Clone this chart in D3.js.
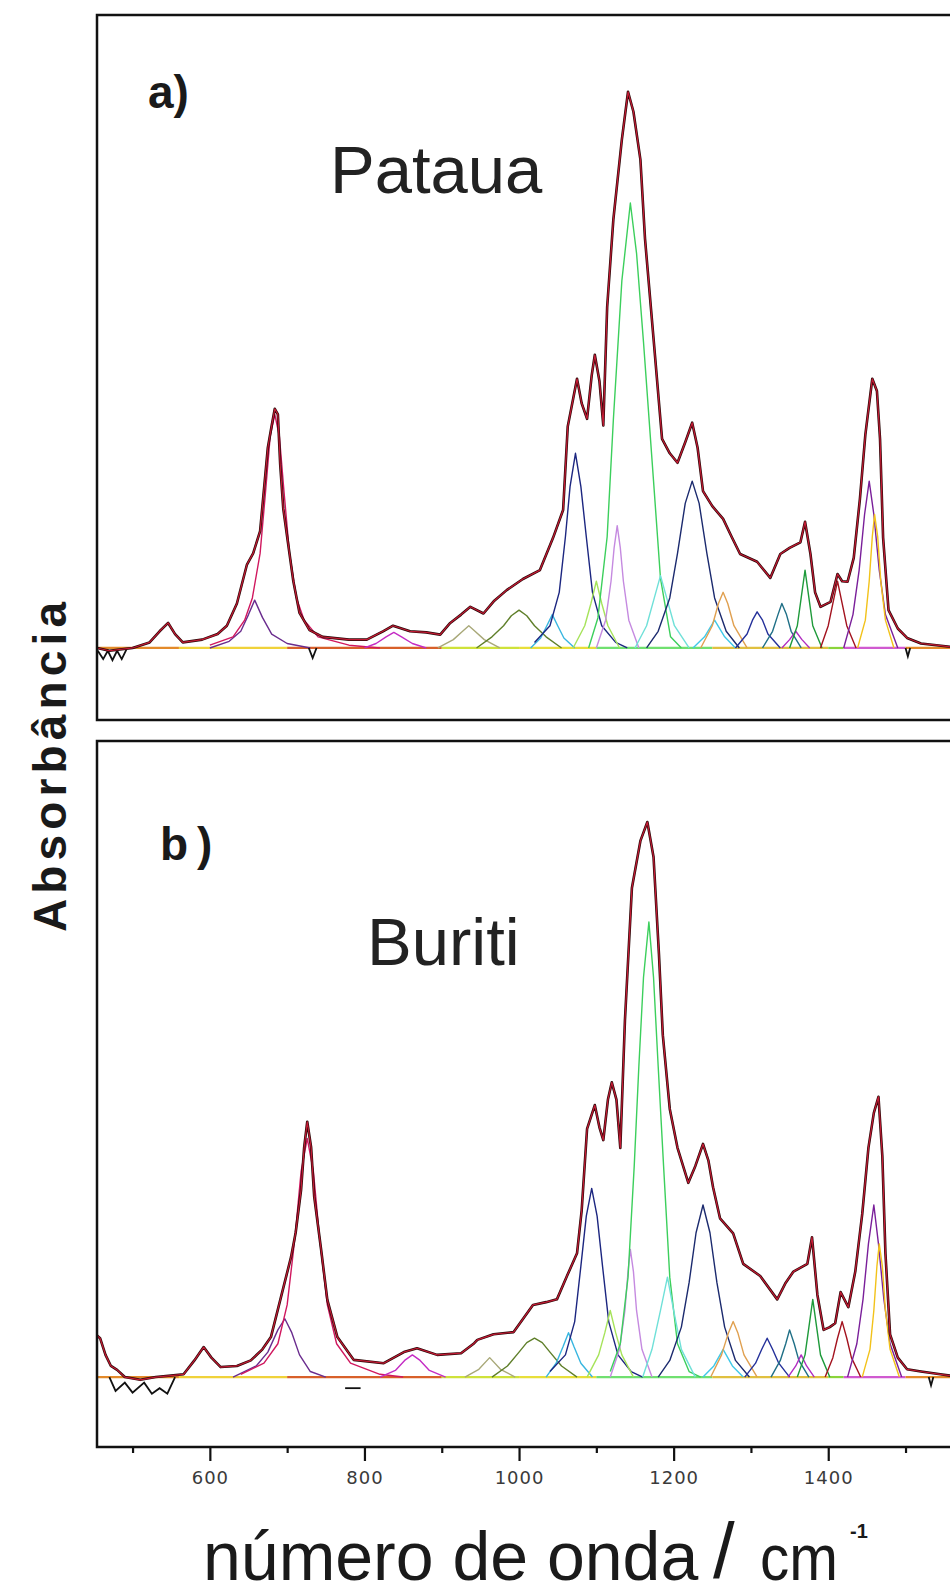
<!DOCTYPE html>
<html lang="pt-BR">
<head>
<meta charset="utf-8">
<title>Absorbância — Pataua e Buriti</title>
<script src="https://cdn.jsdelivr.net/npm/d3@7"></script>
<style>
  html, body { margin: 0; padding: 0; background: #fff; }
  svg { display: block; }
</style>
</head>
<body>
<div id="grafico"></div>
<script>
// ============================================================
// Espectros FTIR deconvoluídos — a) Pataua, b) Buriti
// Dados: [número de onda (cm-1), absorbância relativa]
// ============================================================

// ── Eixo X ──
const ticksPrincipais = [600, 800, 1000, 1200, 1400];
const ticksSecundarios = [500, 700, 900, 1100, 1300, 1500];
const rotulosTicks = ['600', '800', '1000', '1200', '1400'];

// ── Textos ──
const rotulosPaineis = ['a)', 'b)'];
const nomesAmostras = ['Pataua', 'Buriti'];
const tituloY = 'Absorbância';
const tituloX = ['número de onda', '/', 'cm', '-1'];

// ── a) Pataua: espectro total ──
const totalPataua = [
  [454,0.0],[470,-0.005],[500,0.0],[522,0.01],[535,0.03],[546,0.045],[555,0.025],[565,0.01],
  [590,0.015],[610,0.025],[622,0.04],[635,0.08],[648,0.15],[656,0.17],[665,0.21],[671,0.30],
  [675,0.36],[680,0.40],[684,0.43],[688,0.42],[691,0.33],[695,0.25],[701,0.19],[708,0.12],
  [716,0.063],[729,0.032],[746,0.02],[780,0.015],[803,0.015],[824,0.03],[837,0.04],[859,0.03],
  [880,0.028],[898,0.024],[911,0.045],[925,0.06],[937,0.074],[954,0.062],[968,0.085],[984,0.104],
  [1005,0.124],[1027,0.14],[1044,0.198],[1057,0.248],[1063,0.398],[1070,0.448],[1075,0.484],
  [1081,0.44],[1088,0.412],[1094,0.49],[1098,0.527],[1104,0.48],[1109,0.40],[1114,0.613],
  [1122,0.77],[1133,0.914],[1141,1.0],[1148,0.964],[1157,0.878],[1163,0.735],[1174,0.556],
  [1185,0.376],[1195,0.35],[1205,0.333],[1215,0.37],[1224,0.405],[1231,0.36],[1238,0.282],
  [1250,0.255],[1264,0.232],[1275,0.2],[1286,0.169],[1308,0.155],[1325,0.126],[1338,0.169],
  [1350,0.18],[1364,0.19],[1370,0.227],[1377,0.169],[1383,0.10],[1390,0.074],[1403,0.083],
  [1412,0.133],[1418,0.12],[1425,0.119],[1433,0.162],[1441,0.268],[1448,0.383],[1457,0.484],
  [1463,0.462],[1467,0.376],[1471,0.198],[1478,0.068],[1490,0.035],[1502,0.018],[1520,0.008],
  [1540,0.005],[1570,0.0]
];

// ── a) Pataua: bandas ajustadas (mesma ordem das cores) ──
const componentesPataua = [
  [[600,0],[625,0.012],[640,0.03],[650,0.06],[658,0.086],[668,0.055],[680,0.025],[700,0.008],[730,0]],
  [[600,0.005],[630,0.02],[645,0.05],[655,0.09],[665,0.17],[672,0.28],[678,0.38],[684,0.42],[690,0.38],
   [696,0.28],[703,0.17],[712,0.09],[722,0.05],[740,0.02],[780,0.005],[820,0]],
  [[800,0],[815,0.008],[828,0.02],[838,0.028],[848,0.02],[862,0.008],[880,0]],
  [[895,0],[915,0.015],[927,0.03],[935,0.04],[943,0.03],[955,0.015],[975,0]],
  [[945,0],[965,0.02],[980,0.04],[990,0.058],[1000,0.068],[1010,0.058],[1020,0.04],[1035,0.02],[1055,0]],
  [[1015,0],[1028,0.018],[1036,0.04],[1043,0.06],[1050,0.04],[1058,0.018],[1072,0]],
  [[1020,0.01],[1040,0.04],[1052,0.1],[1060,0.2],[1066,0.29],[1073,0.35],[1080,0.29],[1087,0.2],
   [1095,0.1],[1107,0.04],[1125,0.01],[1140,0]],
  [[1070,0],[1085,0.04],[1093,0.08],[1100,0.12],[1107,0.08],[1115,0.04],[1130,0]],
  [[1100,0],[1112,0.05],[1119,0.12],[1123,0.18],[1127,0.22],[1131,0.18],[1135,0.12],[1142,0.05],[1155,0]],
  [[1090,0],[1102,0.054],[1114,0.2],[1122,0.41],[1133,0.66],[1144,0.8],[1152,0.71],[1161,0.55],
   [1174,0.30],[1183,0.125],[1196,0.02],[1210,0]],
  [[1150,0],[1165,0.04],[1175,0.09],[1183,0.13],[1191,0.09],[1201,0.04],[1220,0]],
  [[1165,0],[1180,0.03],[1195,0.09],[1205,0.17],[1215,0.26],[1224,0.30],[1233,0.26],[1243,0.17],
   [1253,0.09],[1268,0.03],[1285,0]],
  [[1225,0],[1240,0.02],[1253,0.05],[1266,0.02],[1280,0]],
  [[1235,0],[1250,0.04],[1258,0.08],[1264,0.1],[1270,0.08],[1278,0.04],[1295,0]],
  [[1280,0],[1295,0.025],[1302,0.05],[1308,0.065],[1315,0.05],[1322,0.025],[1338,0]],
  [[1315,0],[1328,0.03],[1335,0.06],[1340,0.08],[1346,0.06],[1352,0.03],[1365,0]],
  [[1340,0],[1350,0.015],[1358,0.03],[1366,0.015],[1376,0]],
  [[1350,0],[1360,0.04],[1365,0.09],[1370,0.14],[1375,0.09],[1380,0.04],[1392,0]],
  [[1390,0],[1400,0.04],[1406,0.08],[1412,0.12],[1418,0.08],[1424,0.04],[1436,0]],
  [[1420,0],[1432,0.06],[1440,0.14],[1447,0.24],[1453,0.3],[1459,0.24],[1466,0.14],[1474,0.06],[1490,0]],
  [[1438,0],[1448,0.05],[1453,0.12],[1457,0.2],[1460,0.24],[1464,0.2],[1468,0.12],[1474,0.05],[1485,0]]
];

// ── a) Pataua: ruído abaixo da linha de base ──
const ruidoPataua = [
  [[455,-0.005],[462,-0.02],[468,-0.005],[474,-0.022],[480,-0.005],[486,-0.02],[492,-0.003]],
  [[728,0],[733,-0.018],[738,0]],
  [[1500,0],[1503,-0.015],[1506,0]]
];

// ── b) Buriti: espectro total ──
const totalBuriti = [
  [454,0.075],[458,0.07],[465,0.04],[472,0.02],[480,0.013],[490,0.0],[510,-0.005],[530,0.0],
  [566,0.005],[580,0.03],[592,0.054],[602,0.035],[614,0.018],[635,0.02],[653,0.03],[668,0.05],
  [679,0.072],[692,0.144],[705,0.216],[711,0.26],[718,0.337],[722,0.414],[726,0.46],[731,0.414],
  [735,0.325],[744,0.229],[752,0.139],[765,0.072],[786,0.031],[825,0.025],[851,0.045],[868,0.052],
  [894,0.04],[925,0.043],[942,0.061],[946,0.067],[967,0.077],[993,0.081],[1018,0.13],[1035,0.135],
  [1049,0.14],[1062,0.182],[1075,0.223],[1081,0.30],[1088,0.447],[1098,0.49],[1104,0.45],
  [1109,0.427],[1115,0.5],[1120,0.531],[1126,0.5],[1131,0.413],[1137,0.643],[1146,0.881],
  [1157,0.966],[1166,1.0],[1174,0.937],[1181,0.762],[1186,0.616],[1195,0.483],[1205,0.413],
  [1219,0.35],[1228,0.38],[1238,0.42],[1245,0.39],[1251,0.342],[1260,0.286],[1277,0.259],
  [1290,0.204],[1312,0.182],[1334,0.14],[1345,0.17],[1355,0.19],[1373,0.204],[1379,0.252],
  [1386,0.148],[1394,0.085],[1402,0.09],[1409,0.097],[1416,0.153],[1426,0.126],[1435,0.19],
  [1444,0.294],[1452,0.413],[1459,0.476],[1465,0.505],[1470,0.398],[1474,0.223],[1480,0.077],
  [1490,0.035],[1502,0.014],[1520,0.01],[1545,0.005],[1570,0]
];

// ── b) Buriti: bandas ajustadas ──
const componentesBuriti = [
  [[630,0],[660,0.02],[675,0.045],[688,0.085],[697,0.105],[706,0.08],[716,0.04],[730,0.01],[750,0]],
  [[640,0.005],[670,0.025],[688,0.06],[700,0.13],[710,0.25],[718,0.37],[726,0.43],[734,0.37],
   [742,0.25],[752,0.13],[764,0.06],[782,0.025],[820,0.005],[850,0]],
  [[820,0],[840,0.012],[852,0.03],[862,0.04],[872,0.03],[884,0.012],[905,0]],
  [[930,0],[948,0.014],[962,0.035],[976,0.014],[995,0]],
  [[965,0],[985,0.02],[1000,0.045],[1010,0.062],[1020,0.07],[1030,0.062],[1040,0.045],[1055,0.02],[1075,0]],
  [[1035,0],[1048,0.025],[1057,0.055],[1064,0.08],[1071,0.055],[1080,0.025],[1095,0]],
  [[1040,0.01],[1060,0.04],[1072,0.1],[1080,0.2],[1087,0.29],[1094,0.34],[1101,0.29],[1108,0.2],
   [1116,0.1],[1128,0.04],[1145,0.01],[1160,0]],
  [[1088,0],[1103,0.04],[1111,0.08],[1118,0.12],[1125,0.08],[1133,0.04],[1148,0]],
  [[1118,0],[1130,0.05],[1137,0.12],[1141,0.19],[1144,0.23],[1148,0.19],[1152,0.12],[1159,0.05],[1172,0]],
  [[1118,0.01],[1131,0.06],[1141,0.18],[1149,0.38],[1155,0.56],[1161,0.72],[1168,0.82],[1174,0.72],
   [1180,0.56],[1187,0.38],[1195,0.18],[1205,0.06],[1220,0.01],[1235,0]],
  [[1160,0],[1172,0.05],[1183,0.12],[1192,0.18],[1200,0.12],[1210,0.05],[1228,0]],
  [[1180,0],[1195,0.03],[1210,0.09],[1220,0.17],[1229,0.26],[1238,0.31],[1247,0.26],[1256,0.17],
   [1266,0.09],[1280,0.03],[1298,0]],
  [[1238,0],[1252,0.02],[1264,0.05],[1276,0.02],[1290,0]],
  [[1248,0],[1262,0.04],[1271,0.08],[1277,0.1],[1283,0.08],[1291,0.04],[1308,0]],
  [[1292,0],[1306,0.025],[1314,0.05],[1321,0.07],[1328,0.05],[1336,0.025],[1350,0]],
  [[1326,0],[1338,0.03],[1345,0.06],[1350,0.085],[1356,0.06],[1362,0.03],[1375,0]],
  [[1348,0],[1358,0.02],[1365,0.04],[1372,0.02],[1382,0]],
  [[1360,0],[1370,0.04],[1375,0.09],[1380,0.14],[1385,0.09],[1390,0.04],[1402,0]],
  [[1396,0],[1406,0.035],[1412,0.07],[1418,0.1],[1424,0.07],[1430,0.035],[1442,0]],
  [[1425,0],[1437,0.06],[1445,0.14],[1452,0.24],[1459,0.31],[1465,0.24],[1472,0.14],[1480,0.06],[1495,0]],
  [[1444,0],[1454,0.05],[1459,0.12],[1463,0.2],[1466,0.24],[1470,0.2],[1474,0.12],[1480,0.05],[1492,0]]
];

// ── b) Buriti: ruído abaixo da linha de base ──
const ruidoBuriti = [
  [[470,0.0],[478,-0.025],[490,-0.01],[500,-0.028],[515,-0.01],[525,-0.03],[535,-0.02],[545,-0.03],[555,0]],
  [[775,-0.02],[795,-0.02]],
  [[1530,0],[1533,-0.015],[1536,0]]
];

;(function () {
  'use strict';

  // ── Paleta ──
  const CORES = {
    fundo: '#ffffff',
    moldura: '#111111',
    texto: '#1a1a1a',
    tick: '#3a3a3a',
    totalEscuro: '#2a0808',
    totalClaro: '#c41a34',
  };

  // uma cor por banda, na ordem dos arrays de componentes
  const CORES_COMPONENTES = [
    '#6a2c8e', '#d0175e', '#c42bc4', '#a8a878', '#5f7f2a', '#38b6e0', '#1c2680',
    '#a6e35a', '#c58ae0', '#3ccf5c', '#6fe0d8', '#1b2a6e', '#3fc8e8', '#e0a050',
    '#24309a', '#1f6f86', '#b02cc0', '#1e9a3a', '#a3121e', '#7a1f9a', '#f2c21a'
  ];

  // trechos coloridos da linha de base (limite superior em cm-1)
  const CORES_BASE = [
    { ate: 560, cor: '#e38a2a' }, { ate: 700, cor: '#f0d23a' }, { ate: 900, cor: '#d8602a' },
    { ate: 1000, cor: '#cfe23a' }, { ate: 1100, cor: '#e8df3a' }, { ate: 1250, cor: '#70e070' },
    { ate: 1400, cor: '#e0c040' }, { ate: 1420, cor: '#8ad43a' }, { ate: 1500, cor: '#d05ad0' },
    { ate: 1570, cor: '#e38a2a' }
  ];

  const LARGURA = 950;
  const ALTURA = 1595;

  const svg = d3.select('#grafico')
    .append('svg')
    .attr('width', LARGURA)
    .attr('height', ALTURA);

  svg.append('rect').attr('width', LARGURA).attr('height', ALTURA).attr('fill', CORES.fundo);
  const defs = svg.append('defs');

  // ── Escalas ──
  const x = d3.scaleLinear().domain([454, 1564]).range([97, 955]);

  const paineis = [
    { id: 'a', topo: 15, base: 720, y: d3.scaleLinear().domain([-0.1295, 1.138]).range([720, 15]),
      total: totalPataua, componentes: componentesPataua, ruido: ruidoPataua,
      rotulo: { x: 148, y: 108, espaco: 0 }, nome: { x: 330, y: 193 } },
    { id: 'b', topo: 741, base: 1447, y: d3.scaleLinear().domain([-0.126, 1.146]).range([1447, 741]),
      total: totalBuriti, componentes: componentesBuriti, ruido: ruidoBuriti,
      rotulo: { x: 160, y: 860, espaco: 9 }, nome: { x: 367, y: 965 } },
  ];

  /**
   * Desenha um painel: bandas, espectro total, moldura e textos
   */
  function _desenharPainel(p, i) {
    const g = svg.append('g').attr('class', 'painel-' + p.id);

    defs.append('clipPath').attr('id', 'clip-' + p.id)
      .append('rect')
      .attr('x', x.range()[0]).attr('y', p.topo)
      .attr('width', LARGURA - x.range()[0]).attr('height', p.base - p.topo);

    const area = g.append('g').attr('clip-path', `url(#clip-${p.id})`);
    const linha = d3.line().x(d => x(d[0])).y(d => p.y(d[1]));

    // linha de base colorida
    let inicio = x.domain()[0];
    CORES_BASE.forEach(s => {
      area.append('path')
        .attr('d', linha([[inicio, 0], [s.ate, 0]]))
        .attr('fill', 'none')
        .attr('stroke', s.cor)
        .attr('stroke-width', 2.2);
      inicio = s.ate;
    });

    // bandas
    p.componentes.forEach((pts, k) => {
      area.append('path')
        .attr('d', linha(pts))
        .attr('fill', 'none')
        .attr('stroke', CORES_COMPONENTES[k])
        .attr('stroke-width', 1.4)
        .attr('stroke-linejoin', 'round');
    });

    // ruído (preto)
    p.ruido.forEach(pts => {
      area.append('path')
        .attr('d', linha(pts))
        .attr('fill', 'none')
        .attr('stroke', '#111')
        .attr('stroke-width', 1.8);
    });

    // espectro total: experimental (preto) + soma (vermelho)
    area.append('path')
      .attr('d', linha(p.total))
      .attr('fill', 'none')
      .attr('stroke', CORES.totalEscuro)
      .attr('stroke-width', 2.6)
      .attr('stroke-linejoin', 'round');
    area.append('path')
      .attr('d', linha(p.total))
      .attr('fill', 'none')
      .attr('stroke', CORES.totalClaro)
      .attr('stroke-width', 1.2)
      .attr('stroke-linejoin', 'round');

    // moldura
    g.append('rect')
      .attr('x', x.range()[0])
      .attr('y', p.topo)
      .attr('width', LARGURA + 20 - x.range()[0])
      .attr('height', p.base - p.topo)
      .attr('fill', 'none')
      .attr('stroke', CORES.moldura)
      .attr('stroke-width', 2.5);

    // rótulo do painel
    g.append('text')
      .attr('x', p.rotulo.x)
      .attr('y', p.rotulo.y)
      .style('font-family', "'Liberation Sans Narrow', 'Arial Narrow', 'Liberation Sans', sans-serif")
      .style('font-weight', '700')
      .style('font-size', '46px')
      .style('letter-spacing', p.rotulo.espaco + 'px')
      .style('fill', CORES.texto)
      .text(rotulosPaineis[i]);

    // nome da amostra
    g.append('text')
      .attr('x', p.nome.x)
      .attr('y', p.nome.y)
      .style('font-family', "'Liberation Sans', Arial, sans-serif")
      .style('font-size', '67px')
      .style('fill', '#222')
      .text(nomesAmostras[i]);
  }

  paineis.forEach(_desenharPainel);

  // ── Eixo X (apenas no painel inferior) ──
  const yEixo = paineis[1].base;

  const eixoMaior = d3.axisBottom(x)
    .tickValues(ticksPrincipais)
    .tickSize(14)
    .tickPadding(10)
    .tickFormat((d, i) => rotulosTicks[i]);

  const gMaior = svg.append('g')
    .attr('transform', `translate(0,${yEixo})`)
    .call(eixoMaior);

  const eixoMenor = d3.axisBottom(x)
    .tickValues(ticksSecundarios)
    .tickSize(6)
    .tickFormat('');

  const gMenor = svg.append('g')
    .attr('transform', `translate(0,${yEixo})`)
    .call(eixoMenor);

  [gMaior, gMenor].forEach(ga => {
    ga.select('.domain').remove();
    ga.selectAll('.tick line').attr('stroke', CORES.moldura).attr('stroke-width', 2.2);
  });

  gMaior.selectAll('text')
    .style('font-family', "'DejaVu Sans', sans-serif")
    .style('font-size', '18px')
    .style('letter-spacing', '1px')
    .style('fill', CORES.tick);

  // ── Título do eixo Y ──
  svg.append('text')
    .attr('transform', 'translate(66,767) rotate(-90)')
    .attr('text-anchor', 'middle')
    .attr('textLength', 330)
    .attr('lengthAdjust', 'spacing')
    .style('font-family', "'Liberation Sans', Arial, sans-serif")
    .style('font-weight', '700')
    .style('font-size', '46px')
    .style('fill', CORES.texto)
    .text(tituloY);

  // ── Título do eixo X ──
  const gTitulo = svg.append('g').style('fill', CORES.texto);

  gTitulo.append('text')
    .attr('x', 203).attr('y', 1580)
    .style('font-family', "'Liberation Sans', Arial, sans-serif")
    .style('font-size', '68px')
    .text(tituloX[0]);

  gTitulo.append('text')
    .attr('x', 713).attr('y', 1578)
    .style('font-family', "'Liberation Sans', Arial, sans-serif")
    .style('font-size', '78px')
    .text(tituloX[1]);

  gTitulo.append('text')
    .attr('x', 760).attr('y', 1580)
    .attr('textLength', 78)
    .attr('lengthAdjust', 'spacingAndGlyphs')
    .style('font-family', "'Liberation Sans', Arial, sans-serif")
    .style('font-size', '64px')
    .text(tituloX[2]);

  gTitulo.append('text')
    .attr('x', 850).attr('y', 1538)
    .style('font-family', "'Liberation Sans', Arial, sans-serif")
    .style('font-weight', '700')
    .style('font-size', '20px')
    .text(tituloX[3]);
})();
</script>
</body>
</html>
